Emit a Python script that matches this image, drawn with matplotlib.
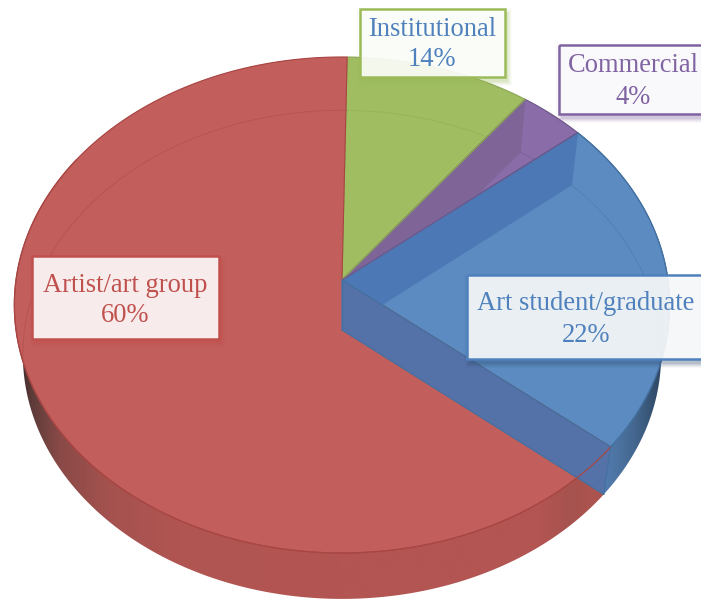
import numpy as np
import matplotlib
matplotlib.use("Agg")
import matplotlib.pyplot as plt
from matplotlib.patches import Polygon, Rectangle
from matplotlib.colors import to_rgb

# ============================================================
# DATA
# ============================================================

categories = ["Institutional", "Commercial", "Art student/graduate", "Artist/art group"]
label_pct = [14, 4, 22, 60]
# the slices are not drawn to the printed percentages, these are the drawn shares
drawn_share = [10.1, 3.6, 22.0, 64.3]
start_deg = 1.0

top_colors = ["#A0BD62", "#8A6DA8", "#5B8BC0", "#C25E5B"]
edge_colors = ["#8CA652", "#6B5585", "#44709F", "#A84644"]
box_colors = ["#9BBB59", "#8064A2", "#4F81BD", "#C0504D"]
text_colors = ["#4F81BD", "#8064A2", "#4F81BD", "#C0504D"]

box_x0 = [360, 559, 467, 32]
box_x1 = [505, 720, 720, 219]
box_y0 = [9, 45, 275, 256]
box_y1 = [77, 114, 359, 339]
text_x = [432, 633, 586, 125]
text_y = [[29, 60], [66, 97], [304, 335], [285, 316]]

# ============================================================
# PROJECTION
# ============================================================

CX, CY = 342, 280
A, B, K = 326, 245.5, 0.1008
DEPTH = 50
SX, SY = 0.974, 0.985


def rim(deg):
    a = np.radians(deg)
    u, v = np.sin(a), np.cos(a)
    d = 1 + K * v
    return CX + A * u / d, CY - B * v / d


def low(x, y):
    return CX + (x - CX) * SX, CY + DEPTH + (y - CY) * SY


def arc(a0, a1, n=200):
    return rim(np.linspace(a0, a1, n))


def gradient_wall(ax, poly_xy, xs, colors):
    rgb = np.array([to_rgb(c) for c in colors])
    grid = np.linspace(0, 701, 702)
    row = np.stack([np.interp(grid, xs, rgb[:, i]) for i in range(3)], axis=1)
    im = ax.imshow(row[None, :, :], extent=(0, 701, 599, 0), aspect="auto", zorder=1)
    patch = Polygon(poly_xy, closed=True, transform=ax.transData, fc="none", ec="none")
    ax.add_patch(patch)
    im.set_clip_path(patch)


# ============================================================
# FIGURE
# ============================================================

fig = plt.figure(figsize=(7.01, 5.99), dpi=100)
ax = fig.add_axes([0, 0, 1, 1])

edges = start_deg + np.cumsum([0] + drawn_share) * 3.6

# --------------------------------------------------------
# Outer walls
# --------------------------------------------------------

x, y = arc(edges[3], edges[4] + 0.0)
bx, by = low(x, y)
red_poly = np.vstack([np.c_[x, y], np.c_[bx, by][::-1]])
gradient_wall(ax, red_poly,
              [20, 32, 60, 110, 180, 342, 540, 570, 603],
              ["#3F2C2A", "#5E3C3A", "#8A4A47", "#A5524F", "#B15552", "#B35552", "#B35552", "#A6524E", "#AE5450"])

x, y = arc(edges[2], edges[3])
bx, by = low(x, y)
blue_poly = np.vstack([np.c_[x, y], np.c_[bx, by][::-1]])
gradient_wall(ax, blue_poly, [600, 635, 668], ["#5580B5", "#44678F", "#2A4058"])

# --------------------------------------------------------
# Top surface
# --------------------------------------------------------

disc_x, disc_y = arc(0, 360, 720)
disc = Polygon(np.c_[disc_x, disc_y], closed=True, fc="none", ec="none")
ax.add_patch(disc)

for i in range(4):
    x, y = arc(edges[i], edges[i + 1])
    pts = np.vstack([[CX, CY], np.c_[x, y]])
    ax.add_patch(Polygon(pts, closed=True, fc=top_colors[i], ec=edge_colors[i], lw=0.8, zorder=2))

# --------------------------------------------------------
# Back rim seen through the top
# --------------------------------------------------------

for i in range(4):
    x, y = arc(edges[i], edges[i + 1])
    bx, by = low(x, y)
    line, = ax.plot(bx, by, color=edge_colors[i], lw=0.7, alpha=0.4, zorder=3)
    line.set_clip_path(disc)

# --------------------------------------------------------
# Cut faces
# --------------------------------------------------------

face_edges = [edges[1], edges[2], edges[3]]
face_colors = ["#7F6597", "#4D78B6", "#5472A8"]

for deg, col in zip(face_edges, face_colors):
    rx, ry = rim(deg)
    lx, ly = low(rx, ry)
    pts = [[CX, CY], [rx, ry], [lx, ly], [CX, CY + DEPTH]]
    ax.add_patch(Polygon(pts, closed=True, fc=col, ec=col, lw=0.5, zorder=4))

# slice edges back on top of the faces
for deg, col in zip(edges[1:4], edge_colors[:3]):
    rx, ry = rim(deg)
    ax.plot([CX, rx], [CY, ry], color=col, lw=0.8, zorder=5)
ax.plot([CX, CX], [CY, CY + DEPTH], color="#44709F", lw=0.8, zorder=5)
rx, ry = rim(edges[3])
lx, ly = low(rx, ry)
ax.plot([CX, lx], [CY + DEPTH, ly], color="#44709F", lw=0.8, zorder=5)
ax.plot([rx, lx], [ry, ly], color="#44709F", lw=0.8, zorder=5)

# red front rim, it also shows over the blue face
x, y = arc(edges[3], edges[4] - 60)
ax.plot(x, y, color="#A84644", lw=0.9, zorder=6)
x, y = arc(edges[2], edges[3])
ax.plot(x, y, color="#44709F", lw=0.8, zorder=6)

# --------------------------------------------------------
# Label boxes
# --------------------------------------------------------

for i in range(4):
    w = box_x1[i] - box_x0[i]
    h = box_y1[i] - box_y0[i]
    for grow, al in zip([10, 7, 5, 3, 1], [0.04, 0.06, 0.08, 0.1, 0.12]):
        ax.add_patch(Rectangle((box_x0[i] + 2 - grow / 2, box_y0[i] + 4 - grow / 2), w + grow, h + grow,
                               fc=box_colors[i] if i != 2 else "#2F4A6B", ec="none", alpha=al, zorder=7))
    ax.add_patch(Rectangle((box_x0[i], box_y0[i]), w, h, fc="white", ec="none", alpha=0.89, zorder=8))
    ax.add_patch(Rectangle((box_x0[i], box_y0[i]), w, h, fc="none", ec=box_colors[i], lw=1.8, zorder=9))
    ax.text(text_x[i], text_y[i][0], categories[i], color=text_colors[i], fontsize=19.1,
            family="Liberation Serif", ha="center", va="center", zorder=10)
    ax.text(text_x[i], text_y[i][1], f"{label_pct[i]}%", color=text_colors[i], fontsize=19.1,
            family="Liberation Serif", ha="center", va="center", zorder=10)

ax.set_xlim(0, 701)
ax.set_ylim(599, 0)
ax.axis("off")

fig.savefig("out.png", dpi=100)
